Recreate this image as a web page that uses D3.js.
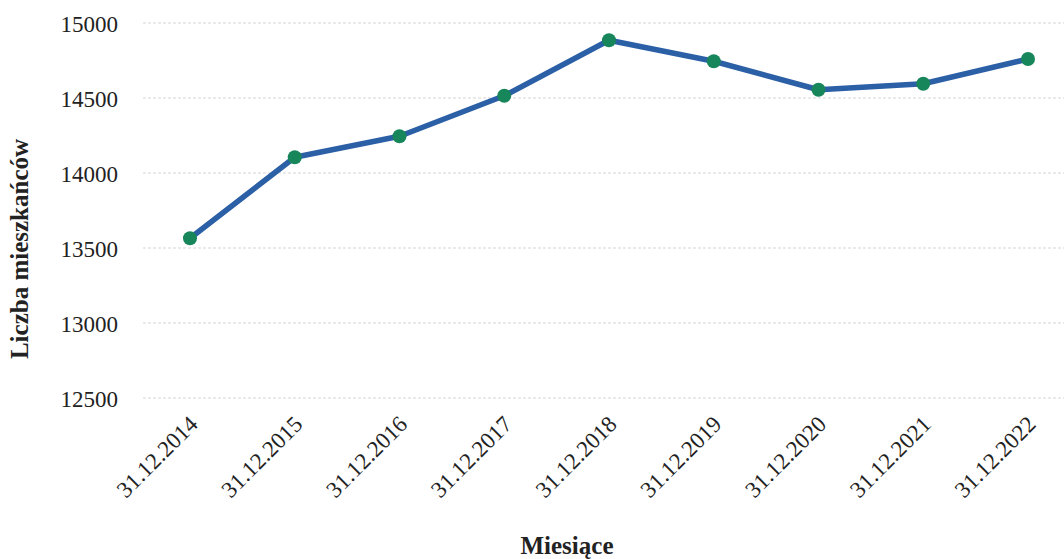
<!DOCTYPE html>
<html><head><meta charset="utf-8">
<script src="https://cdn.jsdelivr.net/npm/d3@7"></script>
<style>body{margin:0;background:#fff}svg{display:block}</style>
</head><body>
<svg id="c" width="1064" height="559"></svg>
<script>
const categories = ["31.12.2014","31.12.2015","31.12.2016","31.12.2017","31.12.2018","31.12.2019","31.12.2020","31.12.2021","31.12.2022"];
const values = [13565, 14105, 14245, 14515, 14885, 14745, 14555, 14595, 14760];
const yTicks = [12500, 13000, 13500, 14000, 14500, 15000];

const svg = d3.select("#c");
const font = "'Liberation Serif', 'Times New Roman', serif";
const x = d3.scalePoint().domain(categories).range([190, 1028]);
const y = d3.scaleLinear().domain([12500, 15000]).range([398, 23]);

// gridlines
svg.append("g").selectAll("line").data(yTicks).join("line")
  .attr("x1", 143).attr("x2", 1064)
  .attr("y1", d => y(d)).attr("y2", d => y(d))
  .attr("stroke", "#d6d6d6").attr("stroke-width", 1.2)
  .attr("stroke-dasharray", "3,2");

// y axis
const ya = svg.append("g").attr("transform", "translate(118,0)")
  .call(d3.axisLeft(y).tickValues(yTicks).tickSize(0).tickPadding(0).tickFormat(d3.format("d")));
ya.select(".domain").remove();
ya.selectAll("text").attr("font-family", font).attr("font-size", 23).attr("fill", "#222").attr("dy", "0.35em");

// x axis
const xa = svg.append("g").attr("transform", "translate(0,420)")
  .call(d3.axisBottom(x).tickSize(0).tickPadding(0));
xa.select(".domain").remove();
xa.selectAll("text")
  .attr("font-family", font).attr("font-size", 23).attr("fill", "#222")
  .attr("text-anchor", "end").attr("dy", "0.35em")
  .attr("transform", "translate(3,0) rotate(-45)");

// line
svg.append("path").datum(values)
  .attr("fill", "none").attr("stroke", "#2b5fa6").attr("stroke-width", 5.5)
  .attr("stroke-linejoin", "round")
  .attr("d", d3.line().x((d, i) => x(categories[i])).y(d => y(d)));

svg.append("g").selectAll("circle").data(values).join("circle")
  .attr("cx", (d, i) => x(categories[i])).attr("cy", d => y(d))
  .attr("r", 7).attr("fill", "#17865a");

// axis titles
svg.append("text").attr("transform", "translate(28,249) rotate(-90)")
  .attr("text-anchor", "middle").attr("font-family", font).attr("font-weight", "bold")
  .attr("font-size", 25).attr("fill", "#222").text("Liczba mieszkańców");
svg.append("text").attr("x", 567).attr("y", 554)
  .attr("text-anchor", "middle").attr("font-family", font).attr("font-weight", "bold")
  .attr("font-size", 25).attr("fill", "#222").text("Miesiące");
</script>
</body></html>
